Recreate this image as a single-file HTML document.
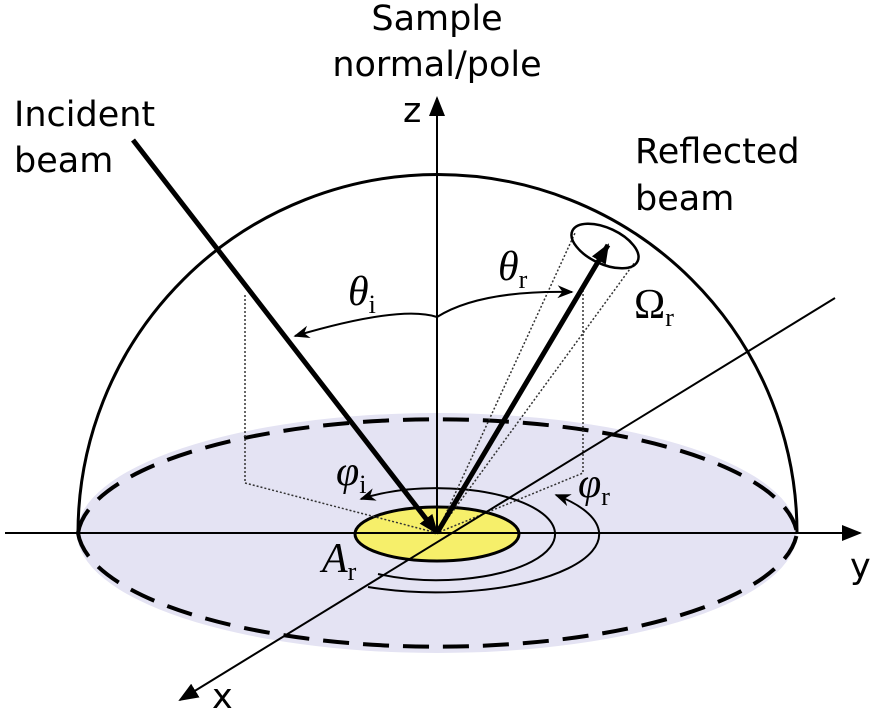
<!DOCTYPE html>
<html><head><style>body{margin:0;background:#fff}svg{display:block}</style></head><body>
<svg width="881" height="712" viewBox="0 0 881 712" xmlns="http://www.w3.org/2000/svg">
<defs>
<marker id="ab" viewBox="0 0 10 10" refX="9" refY="5" markerWidth="20" markerHeight="20" orient="auto" markerUnits="userSpaceOnUse"><path d="M0,1L10,5L0,9z" fill="#000"/></marker>
<marker id="as" viewBox="0 0 10 10" refX="9" refY="5" markerWidth="16" markerHeight="16" orient="auto" markerUnits="userSpaceOnUse"><path d="M0,1L10,5L0,9L3,5z" fill="#000"/></marker>
</defs>
<ellipse cx="437" cy="533" rx="360" ry="120" fill="#e4e3f3"/>
<path d="M78,533 A359,358 0 0 1 797,533" fill="none" stroke="#000" stroke-width="3"/>
<path d="M78,533 A360,120 0 0 1 797,533" fill="none" stroke="#000" stroke-width="4" stroke-dasharray="26,14"/>
<path d="M78,533 A360,120 0 0 0 797,533" fill="none" stroke="#000" stroke-width="4" stroke-dasharray="26,14"/>
<path d="M378,574 A118,46 0 1 0 361,499" fill="none" stroke="#000" stroke-width="2" marker-end="url(#as)"/>
<path d="M368,587 A163,58 0 0 0 556,495" fill="none" stroke="#000" stroke-width="2" marker-end="url(#as)"/>
<ellipse cx="437" cy="534" rx="82" ry="27" fill="#f6ef6a" stroke="#000" stroke-width="3"/>
<g fill="none" stroke="#333" stroke-width="1.5" stroke-dasharray="2,2">
<path d="M245,295 V483 L437,533"/>
<path d="M583,290 V473 L437,533"/>
<path d="M437,533 L575,233 M437,533 L635,262"/>
</g>
<line x1="5" y1="533" x2="860" y2="533" stroke="#000" stroke-width="2" marker-end="url(#ab)"/>
<line x1="437" y1="533" x2="437" y2="98" stroke="#000" stroke-width="2" marker-end="url(#ab)"/>
<line x1="835" y1="298" x2="180" y2="700" stroke="#000" stroke-width="2" marker-end="url(#ab)"/>
<line x1="133" y1="140" x2="437" y2="533" stroke="#000" stroke-width="5" marker-end="url(#ab)"/>
<line x1="437" y1="533" x2="608" y2="245" stroke="#000" stroke-width="5" marker-end="url(#ab)"/>
<ellipse cx="605" cy="246" rx="36" ry="18" transform="rotate(25 605 246)" fill="none" stroke="#000" stroke-width="2.5"/>
<path d="M437,317 Q400,305 295,336" fill="none" stroke="#000" stroke-width="2" marker-end="url(#as)"/>
<path d="M437,317 Q480,290 572,292" fill="none" stroke="#000" stroke-width="2" marker-end="url(#as)"/>
<g font-family="DejaVu Sans, Liberation Sans, sans-serif" font-size="35" fill="#000">
<text x="437" y="30" text-anchor="middle">Sample</text>
<text x="437" y="76" text-anchor="middle">normal/pole</text>
<text x="403" y="122">z</text>
<text x="14" y="126">Incident</text>
<text x="14" y="172">beam</text>
<text x="635" y="163">Reflected</text>
<text x="635" y="210">beam</text>
<text x="850" y="578">y</text>
<text x="212" y="708">x</text>
</g>
<g font-family="Liberation Serif, serif" font-style="italic" font-size="42" fill="#000">
<text x="348" y="305">θ<tspan font-size="26" font-style="normal" dy="8">i</tspan></text>
<text x="498" y="280">θ<tspan font-size="26" font-style="normal" dy="8">r</tspan></text>
<text x="634" y="318" font-style="normal">Ω<tspan font-size="26" dy="8">r</tspan></text>
<text x="336" y="485">φ<tspan font-size="26" font-style="normal" dy="8">i</tspan></text>
<text x="578" y="497">φ<tspan font-size="26" font-style="normal" dy="8">r</tspan></text>
<text x="322" y="572">A<tspan font-size="26" font-style="normal" dy="8">r</tspan></text>
</g>
</svg>
</body></html>
